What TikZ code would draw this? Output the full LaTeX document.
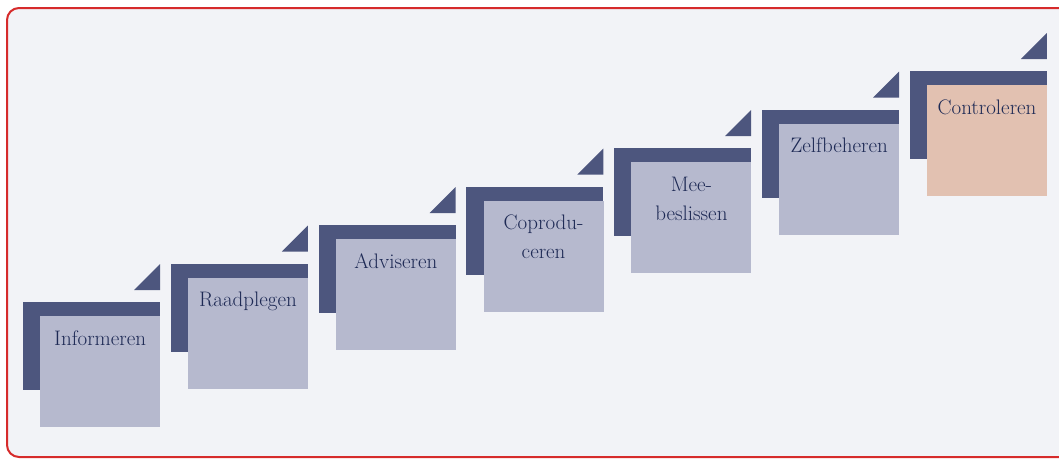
\documentclass[tikz,border=0pt]{standalone}
\usetikzlibrary{positioning}

\definecolor{pagebg}{HTML}{F2F3F7}
\definecolor{framered}{HTML}{D62B2B}
\definecolor{stepdark}{HTML}{4D567E}
\definecolor{steplight}{HTML}{B6B9CE}
\definecolor{steppeach}{HTML}{E2C1B1}
\definecolor{steptext}{HTML}{1E2A55}

\tikzset{
  frame/.style={draw=framered, line width=2pt, fill=pagebg, rounded corners=12pt},
  backbox/.style={fill=stepdark},
  corner/.style={fill=stepdark},
  frontbox/.style={fill=#1, inner sep=0pt, minimum width=120pt, minimum height=111pt, anchor=north west},
  steplabel/.style={text=steptext, align=center, anchor=north, inner sep=0pt,
    font=\fontsize{21}{29}\selectfont},
}

\begin{document}
\begin{tikzpicture}[x=1pt, y=-1pt]
\useasboundingbox (0,0) rectangle (1059,458);
\draw[frame] (7,8) rectangle (1072,457);

\foreach \lbl [count=\i from 0] in {Informeren, Raadplegen, Adviseren, {Coprodu-\\ceren}, {Mee-\\beslissen}, Zelfbeheren, Controleren}{
  \pgfmathsetmacro{\xo}{23+147.8*\i}
  \pgfmathsetmacro{\yo}{302-38.5*\i}
  \ifnum\i=6 \def\boxcol{steppeach}\else\def\boxcol{steplight}\fi
  % dark back plate and the little corner
  \fill[backbox] (\xo,\yo) rectangle ++(137,88);
  \fill[corner] (\xo+111,\yo-12) -- ++(26,0) -- ++(0,-26) -- cycle;
  % front card with its label
  \node[frontbox=\boxcol] (card\i) at (\xo+17,\yo+14) {};
  \node[steplabel] (name\i) at ([yshift=-14.5pt]card\i.north) {\lbl};
}
\end{tikzpicture}
\end{document}
